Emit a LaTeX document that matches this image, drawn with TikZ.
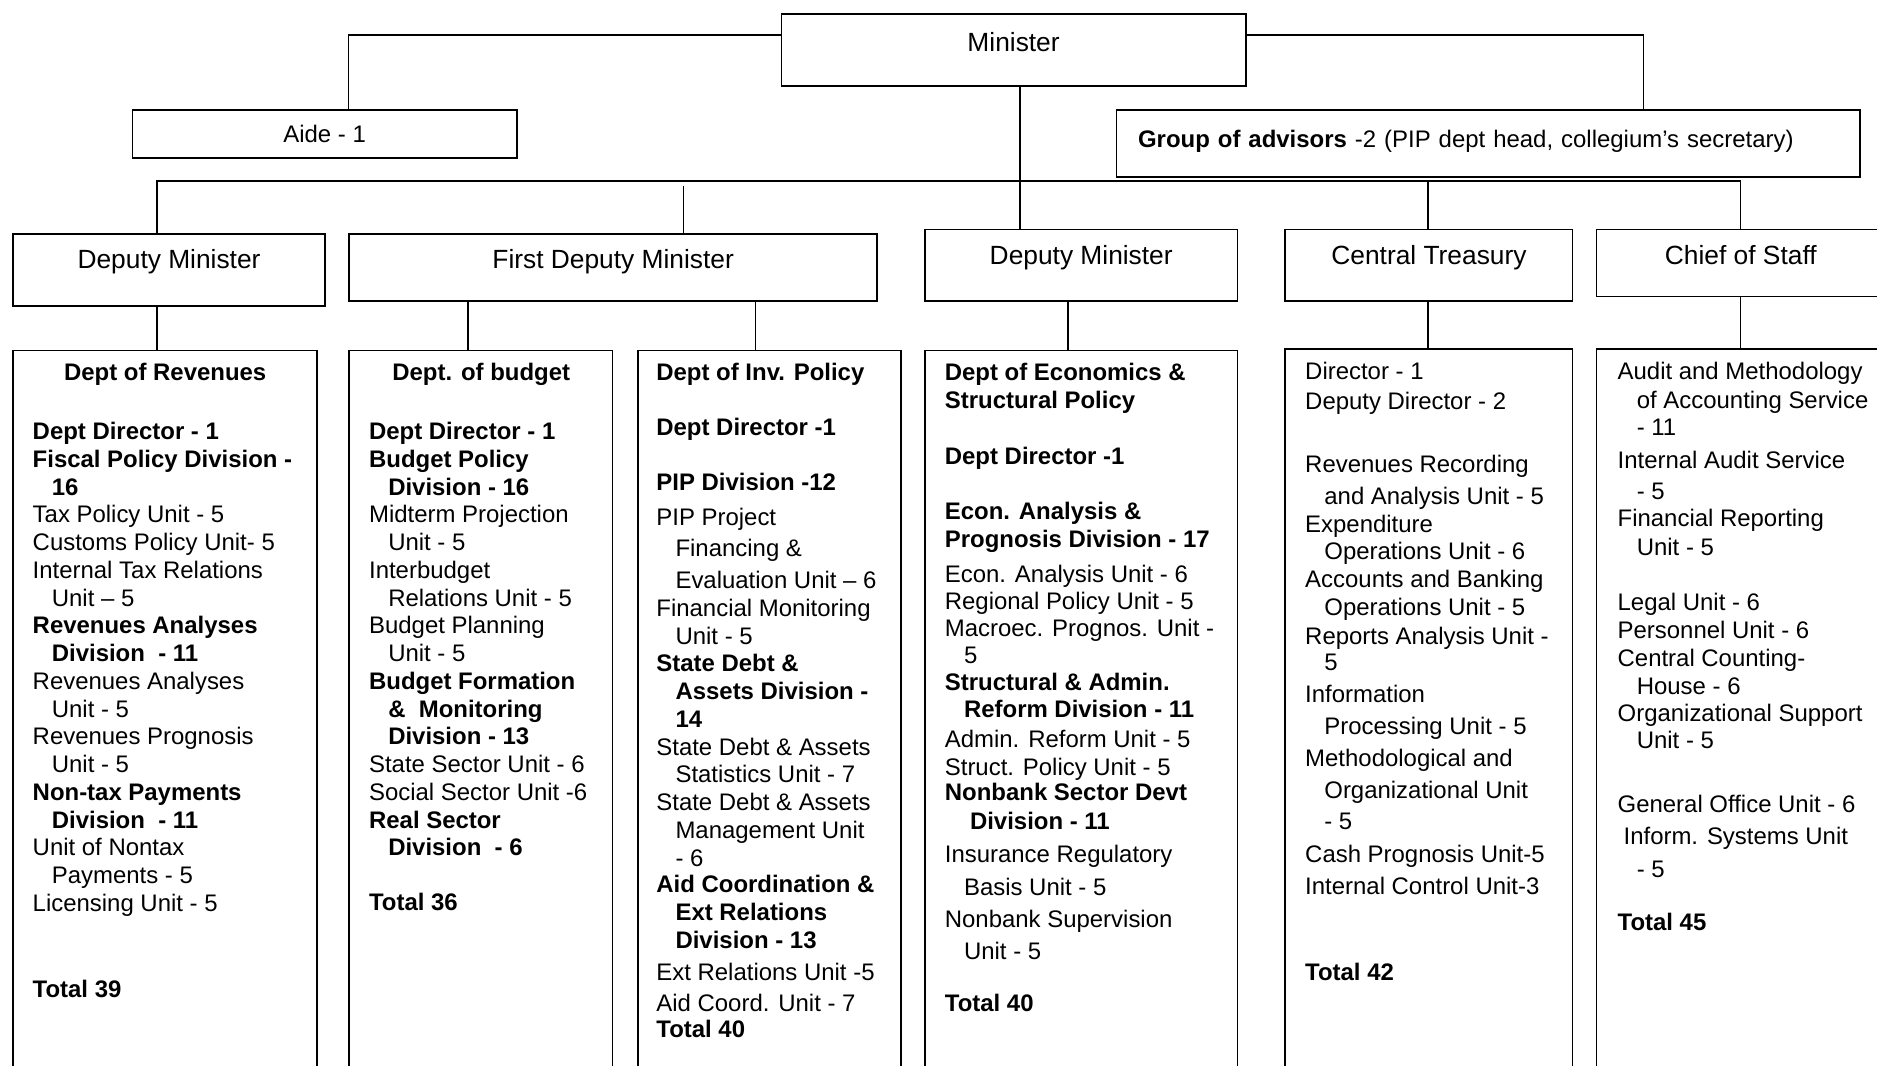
\documentclass[tikz,border=0pt]{standalone}
\usepackage{fontspec}
\setmainfont{Liberation Sans}
\usetikzlibrary{calc}
\newcommand\myind{\hspace*{9.6pt}}
\tikzset{
  unitbox/.style={draw, line width=0.85pt, inner sep=0pt, anchor=north west, text height=10pt},
  headbox/.style={unitbox, font=\fontsize{13.2}{15.8}\selectfont},
  smallbox/.style={unitbox, font=\fontsize{12}{13.9}\selectfont},
  deptbox/.style={draw, line width=0.85pt, inner sep=0pt, anchor=north west, minimum height=372pt},
  bodytext/.style={anchor=north west, inner sep=0pt, align=left, font=\fontsize{12}{13.9}\selectfont},
  titletext/.style={anchor=base, inner sep=0pt, font=\fontsize{12}{13.9}\selectfont\bfseries},
  link/.style={line width=0.85pt}
}
\begin{document}
\begin{tikzpicture}[x=0.6pt, y=-0.6pt]
\useasboundingbox (0,0) rectangle (1568,890.5);
\fill[white] (0,0) rectangle (1568,890.5);
\clip (0,0) rectangle (1568,890.5);

% top level
\node[headbox, minimum width=232.8pt, minimum height=36pt, text depth=8.8pt] (min) at (652,11) {Minister};
\node[smallbox, minimum width=192.6pt, minimum height=24pt, text depth=1pt] (aide) at (110,91) {Aide - 1};
\node[smallbox, minimum width=372.6pt, minimum height=33.6pt, text depth=5.8pt, inner xsep=10.8pt, text width=351pt, align=left] (adv) at (932,91) {\textbf{Group of advisors} -2 (PIP dept head, collegium’s secretary)};

% second level
\node[headbox, minimum width=156.6pt, minimum height=36pt, text depth=11.2pt] (dm1) at (10,195) {Deputy Minister};
\node[headbox, minimum width=264.6pt, minimum height=33.6pt, text depth=8.8pt] (fdm) at (291,195) {First Deputy Minister};
\node[headbox, minimum width=156.6pt, minimum height=36pt, text depth=11.2pt] (dm2) at (772,191) {Deputy Minister};
\node[headbox, minimum width=144pt, minimum height=36pt, text depth=11.2pt] (ct) at (1073,191) {Central Treasury};
\node[headbox, minimum width=144.6pt, minimum height=33.6pt, text depth=8.8pt] (cos) at (1333,191) {Chief of Staff};

% third level boxes
\node[deptbox, minimum width=152.4pt] (rev) at (10,292) {};
\node[deptbox, minimum width=132pt] (bud) at (291,292) {};
\node[deptbox, minimum width=132pt] (inv) at (532,292) {};
\node[deptbox, minimum width=156.6pt] (eco) at (772,292) {};
\node[deptbox, minimum width=144pt] (ct2) at (1073,291) {};
\node[deptbox, minimum width=144.6pt] (cos2) at (1333,291) {};

% connectors top
\draw[link] ($(min.north west)+(0,18)$) -| ($(aide.north west)+(181,0)$);
\draw[link] ($(min.north east)+(0,18)$) -| ($(adv.north west)+(441,0)$);
\coordinate (bus) at (0,151);
\coordinate (d1) at ($(dm1.north west)+(121,0)$);
\coordinate (d2) at ($(fdm.north west)+(280,0)$);
\coordinate (d2g) at ($(d2)+(0,-40)$);
\coordinate (d3) at ($(dm2.north west)+(80,0)$);
\coordinate (d4) at ($(ct.north west)+(120,0)$);
\coordinate (d5) at ($(cos.north west)+(121,0)$);
\coordinate (mb) at ($(min.south west)+(200,0)$);
\draw[link] (d1) -- (d1 |- bus) -- (d5 |- bus) -- (d5);
\draw[link] (d4 |- bus) -- (d4);
\draw[link] (mb) -- (d3);
\draw[link] (d2g) -- (d2);

% connectors to departments
\draw[link] ($(dm1.south west)+(121,0)$) -- ($(rev.north west)+(121,0)$);
\draw[link] ($(fdm.south west)+(100,0)$) -- ($(bud.north west)+(100,0)$);
\draw[link] ($(fdm.south west)+(340,0)$) -- ($(inv.north west)+(99,0)$);
\draw[link] ($(dm2.south west)+(120,0)$) -- ($(eco.north west)+(120,0)$);
\draw[link] ($(ct.south west)+(120,0)$) -- ($(ct2.north west)+(120,0)$);
\draw[link] ($(cos.south west)+(121,0)$) -- ($(cos2.north west)+(121,0)$);

% Dept of Revenues
\node[titletext] (revH) at (138,317.5) {Dept of Revenues};
\node[bodytext] (revB) at (27,350.8) {\strut\textbf{Dept Director - 1}\\
\textbf{Fiscal Policy Division -}\\
\myind\textbf{16}\\
Tax Policy Unit - 5\\
Customs Policy Unit- 5\\
Internal Tax Relations\\
\myind Unit – 5\\
\textbf{Revenues Analyses}\\
\myind\textbf{Division\ \ - 11}\\
Revenues Analyses\\
\myind Unit - 5\\
Revenues Prognosis\\
\myind Unit - 5\\
\textbf{Non-tax Payments}\\
\myind\textbf{Division\ \ - 11}\\
Unit of Nontax\\
\myind Payments - 5\\
Licensing Unit - 5\\[29.3pt]
\textbf{Total 39}};

% Dept of budget
\node[titletext] (budH) at (402,317.5) {Dept. of budget};
\node[bodytext] (budB) at (308,350.8) {\strut\textbf{Dept Director - 1}\\
\textbf{Budget Policy}\\
\myind\textbf{Division - 16}\\
Midterm Projection\\
\myind Unit - 5\\
Interbudget\\
\myind Relations Unit - 5\\
Budget Planning\\
\myind Unit - 5\\
\textbf{Budget Formation}\\
\myind\textbf{\&\ \ Monitoring}\\
\myind\textbf{Division - 13}\\
State Sector Unit - 6\\
Social Sector Unit -6\\
\textbf{Real Sector}\\
\myind\textbf{Division\ \ - 6}\\[13.7pt]
\textbf{Total 36}};

% Dept of Inv. Policy
\node[bodytext] (invB) at (548,301.3) {\strut\textbf{Dept of Inv. Policy}\\[13.7pt]
\textbf{Dept Director -1}\\[13.7pt]
\textbf{PIP Division -12}\\[3.5pt]
PIP Project\\[1.7pt]
\myind Financing \&\\[2.3pt]
\myind Evaluation Unit – 6\\
Financial Monitoring\\
\myind Unit - 5\\
\textbf{State Debt \&}\\
\myind\textbf{Assets Division -}\\
\myind\textbf{14}\\
State Debt \& Assets\\
\myind Statistics Unit - 7\\
State Debt \& Assets\\
\myind Management Unit\\
\myind - 6\\[-0.5pt]
\textbf{Aid Coordination \&}\\
\myind\textbf{Ext Relations}\\
\myind\textbf{Division - 13}\\[2.2pt]
Ext Relations Unit -5\\[1.7pt]
Aid Coord. Unit - 7\\[-0.9pt]
\textbf{Total 40}};

% Dept of Economics
\node[bodytext] (ecoB) at (789,301.3) {\strut\textbf{Dept of Economics \&}\\
\textbf{Structural Policy}\\[14.3pt]
\textbf{Dept Director -1}\\[13.7pt]
\textbf{Econ. Analysis \&}\\
\textbf{Prognosis Division - 17}\\[3.5pt]
Econ. Analysis Unit - 6\\
Regional Policy Unit - 5\\[-0.7pt]
Macroec. Prognos. Unit -\\
\myind 5\\[-0.7pt]
\textbf{Structural \& Admin.}\\
\myind\textbf{Reform Division - 11}\\[1.1pt]
Admin. Reform Unit - 5\\
Struct. Policy Unit - 5\\[-1.3pt]
\textbf{Nonbank Sector Devt}\\[0.5pt]
\hspace*{12.6pt}\textbf{Division - 11}\\[2.9pt]
Insurance Regulatory\\[2.3pt]
\myind Basis Unit - 5\\[2.3pt]
Nonbank Supervision\\[2.3pt]
\myind Unit - 5\\[12.0pt]
\textbf{Total 40}};

% Central Treasury
\node[bodytext] (ctB) at (1090,300.3) {\strut Director - 1\\[1.1pt]
Deputy Director - 2\\[17.9pt]
Revenues Recording\\[2.3pt]
\myind and Analysis Unit - 5\\
Expenditure\\[-0.7pt]
\myind Operations Unit - 6\\[0.5pt]
Accounts and Banking\\
\myind Operations Unit - 5\\[0.5pt]
Reports Analysis Unit -\\[-0.7pt]
\myind 5\\[2.3pt]
Information\\[1.7pt]
\myind Processing Unit - 5\\[2.3pt]
Methodological and\\[2.3pt]
\myind Organizational Unit\\[1.7pt]
\myind - 5\\[2.3pt]
Cash Prognosis Unit-5\\[2.3pt]
Internal Control Unit-3\\[29.3pt]
\textbf{Total 42}};

% Chief of Staff
\node[bodytext] (cosB) at (1351,300.3) {\strut Audit and Methodology\\[0.5pt]
\myind of Accounting Service\\
\myind - 11\\[2.3pt]
Internal Audit Service\\[1.7pt]
\myind - 5\\
Financial Reporting\\[0.5pt]
\myind Unit - 5\\[13.7pt]
Legal Unit - 6\\
Personnel Unit - 6\\
Central Counting-\\[0.5pt]
\myind House - 6\\[-0.7pt]
Organizational Support\\
\myind Unit - 5\\[17.9pt]
General Office Unit - 6\\[2.3pt]
\hspace*{3pt}Inform. Systems Unit\\[2.3pt]
\myind - 5\\[13.1pt]
\textbf{Total 45}};
\end{tikzpicture}
\end{document}
